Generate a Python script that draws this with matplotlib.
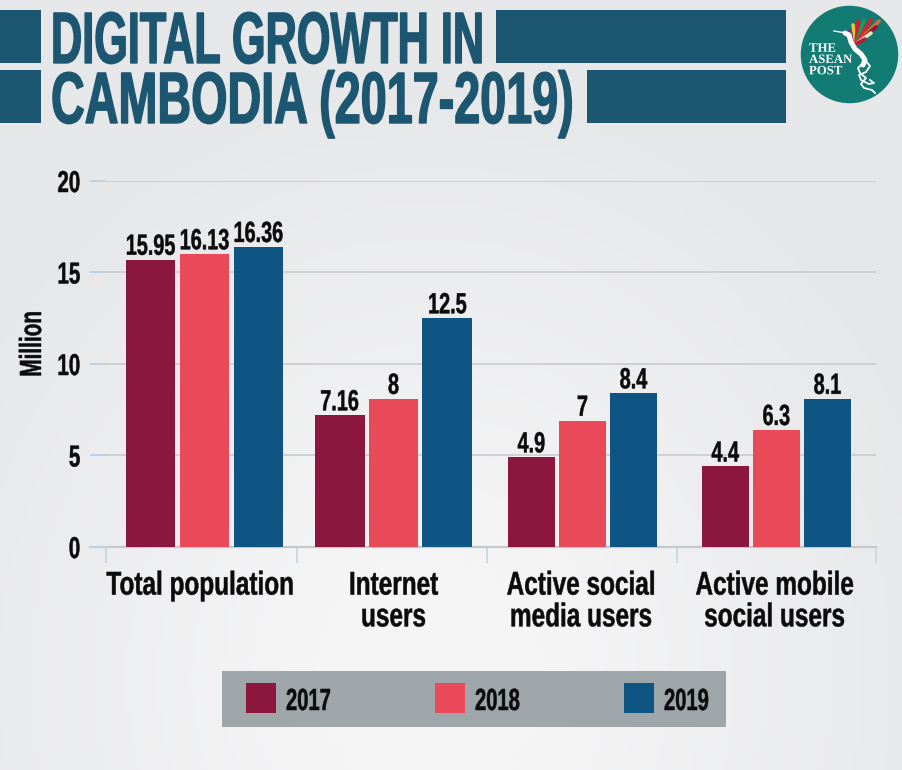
#!/usr/bin/env python3
import numpy as np, matplotlib
matplotlib.use("Agg")
import matplotlib.pyplot as plt
from matplotlib.patches import Rectangle, Ellipse
from matplotlib.patheffects import AbstractPathEffect
from matplotlib.transforms import Affine2D, Bbox
from matplotlib.colors import LinearSegmentedColormap

W,H=903,770
categories=["Total population","Internet\nusers","Active social\nmedia users","Active mobile\nsocial users"]
years=["2017","2018","2019"]
yticks=[0,5,10,15,20]
# bar heights as drawn in the picture, printed labels kept apart (15.95 is drawn lower than it says)
h2017=[15.7,7.2,4.9,4.4]
h2018=[16.0,8.1,6.9,6.4]
h2019=[16.4,12.5,8.4,8.1]
lab2017=["15.95","7.16","4.9","4.4"]
lab2018=["16.13","8","7","6.3"]
lab2019=["16.36","12.5","8.4","8.1"]
cols=["#8c173e","#e84a5a","#0f5583"]
TEAL="#1d5670"; GRID="#c6c9cc"; BLUE="#bcd2e6"
FONT=["Liberation Sans","DejaVu Sans"]

# no condensed face installed: keep real text, squeeze the glyphs while drawing
class Squeeze(AbstractPathEffect):
    def __init__(self,txt,sx,lw=0.0,vertical=False):
        super().__init__(); self.txt=txt; self.sx=sx; self.lw=lw; self.vertical=vertical
    def draw_path(self,renderer,gc,tpath,affine,rgbFace=None):
        ax_,ay_=self.txt.get_transform().transform(self.txt.get_position())
        if self.vertical: sq=Affine2D().translate(0,-ay_).scale(1,self.sx).translate(0,ay_)
        else: sq=Affine2D().translate(-ax_,0).scale(self.sx,1).translate(ax_,0)
        gc0=renderer.new_gc(); gc0.copy_properties(gc)
        gc0.set_linewidth(self.lw); gc0.set_foreground(rgbFace)
        renderer.draw_path(gc0,tpath,affine+sq,rgbFace)
        gc0.restore()

def squeeze(t,sx,lw=0.0,vertical=False):
    t.set_path_effects([Squeeze(t,sx,lw,vertical)])
    orig=t.get_window_extent
    def extent(renderer=None,dpi=None):
        b=orig(renderer,dpi)
        ax_,ay_=t.get_transform().transform(t.get_position())
        if vertical: return Bbox([[b.x0,ay_+(b.y0-ay_)*sx],[b.x1,ay_+(b.y1-ay_)*sx]])
        return Bbox([[ax_+(b.x0-ax_)*sx,b.y0],[ax_+(b.x1-ax_)*sx,b.y1]])
    t.get_window_extent=extent
    return t

fig=plt.figure(figsize=(W/100,H/100),dpi=100)
bg=fig.add_axes([0,0,1,1]); bg.axis("off")
yy,xx=np.mgrid[0:H:200j,0:W:200j]
g=np.clip(1-np.hypot((xx-430)/560,(yy-680)/620),0,1)
bg.imshow(g,cmap=LinearSegmentedColormap.from_list("b",["#e6e7e9","#f5f5f6"]),extent=[0,W,H,0],aspect="auto",vmin=0,vmax=.8)
bg.set_xlim(0,W); bg.set_ylim(H,0)

# ---- header ----
for x0,y0,x1,y1 in [(0,10,41,63),(0,70,41,123),(496,10,786,63),(587,70,786,123)]:
    bg.add_patch(Rectangle((x0,y0),x1-x0,y1-y0,color=TEAL,lw=0))
t1=bg.text(51,63,"DIGITAL GROWTH IN",color=TEAL,fontsize=52.4,fontweight="bold",family=FONT,va="baseline",ha="left")
t2=bg.text(51,123,"CAMBODIA (2017-2019)",color=TEAL,fontsize=52.4,fontweight="bold",family=FONT,va="baseline",ha="left")
squeeze(t1,0.594,1.0); squeeze(t2,0.642,1.0)

# logo
bg.add_patch(Ellipse((849.5,54.5),97.5,97.5,color="#127b73",lw=0))
squeeze(bg.text(809,60,"THE\nASEAN\nPOST",color="white",fontsize=9.2,family="Liberation Serif",fontweight="bold",va="center",linespacing=.92),1.0)
feather=["#7b2d82","#e8c23a","#c8203a","#2e8f57","#d8232a","#e86a2a","#8c173e","#f0e3c0","#b01e3c"]
tips=[(849,31),(853,25),(858,21),(864,20),(871,20),(879,21),(876,27),(871,33),(865,39)]
for (tx,ty),c in zip(tips,feather):
    bg.plot([856,tx],[44,ty],color=c,lw=2.6,solid_capstyle="round")
bg.plot([834,846],[31,33],color="white",lw=1)
bg.plot([845,849,851,855,861,865,863],[33,35,42,49,54,60,65],color="white",lw=3.6,solid_capstyle="round")
bg.plot([863,858,860,866,861,864,872,875],[63,68,73,78,84,88,90,93],color="white",lw=1.3)
bg.plot([865,870,866,859,861,869,874,870],[60,66,72,75,80,84,83,80],color="white",lw=1.3)

# ---- chart ----
ax=fig.add_axes([90/W,1-547/H,786/W,366/H])
ax.patch.set_visible(False)
x=np.arange(len(categories))
nudge=np.array([0,-.008,-.016,.002])
width=np.array([.257,.262,.247,.247])
step=np.array([.283,.283,.268,.268])
series=[(h2017,lab2017),(h2018,lab2018),(h2019,lab2019)]
ax.set_xlim(-.601,3.525); ax.set_ylim(0,20)
for k,((vals,labs),c) in enumerate(zip(series,cols)):
    xs=x+nudge+(k-1)*step
    ax.bar(xs,vals,width,color=c,zorder=3)
    for xi,v,l in zip(xs,vals,labs):
        squeeze(ax.text(xi,v+.27,l,ha="center",va="baseline",fontsize=21,fontweight="bold",family=FONT,color="#0b0b0b"),.68,.35)

ax.set_yticks(yticks)
ax.grid(axis="y",color=GRID,lw=1.1); ax.set_axisbelow(True)
for s in ax.spines.values(): s.set_visible(False)
ax.axhline(0,color=GRID,lw=1.6,zorder=2,clip_on=False)
ax.hlines(yticks,-.601,-.517,color=BLUE,lw=1.3,zorder=2,clip_on=False)
ax.tick_params(axis="y",length=0,pad=7,labelsize=21.7)
for t in ax.get_yticklabels():
    t.set_fontweight("bold"); t.set_family(FONT); t.set_color("#0b0b0b")
ax.set_xticks([-.024,.992,1.976,2.992])
ax.set_xticklabels(categories,fontsize=23.7,fontweight="bold",family=FONT,linespacing=1.03,color="#0b0b0b")
ax.tick_params(axis="x",which="major",length=0,pad=17)
ax.set_xticks([-.517,.486,1.483,2.48,3.525],minor=True)
ax.tick_params(axis="x",which="minor",length=11.5,width=1.1,color=BLUE)
ylab=ax.set_ylabel("Million",fontsize=22,fontweight="bold",family=FONT,color="#0b0b0b")
ax.yaxis.set_label_coords((48-90)/786,(547-344)/366)
fig.canvas.draw()
for t in ax.get_yticklabels(): squeeze(t,.68,.35)
for t in ax.get_xticklabels(): squeeze(t,.74,.35)
squeeze(ylab,.68,.35,vertical=True)

# ---- legend strip ----
bg.add_patch(Rectangle((222,671),504,56,color="#9ea6a9",lw=0))
for lx,c,y in zip([246,435,624],cols,years):
    bg.add_patch(Rectangle((lx,683),30.5,30,color=c,lw=0))
    squeeze(bg.text(lx+40,710,y,fontsize=22,fontweight="bold",family=FONT,va="baseline",ha="left",color="#0b0b0b"),.66,.35)

fig.savefig("out.png",dpi=100)
